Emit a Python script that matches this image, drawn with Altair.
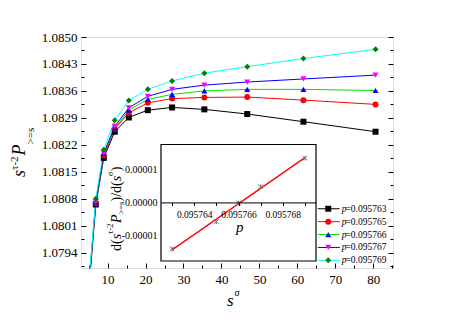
import altair as alt
import pandas as pd

# ---------------- data ----------------
S_SIGMA = [5.2, 6.9, 9.0, 11.9, 15.6, 20.6, 27.0, 35.5, 46.8, 61.6, 80.6]
SERIES = ["0.095763", "0.095765", "0.095766", "0.095767", "0.095769"]
Y_063 = [1.0786, 1.08065, 1.08186, 1.08254, 1.08291, 1.08310, 1.08317, 1.08312, 1.08300, 1.08280, 1.08254]
Y_065 = [1.0787, 1.08068, 1.08192, 1.08261, 1.08303, 1.08329, 1.08340, 1.08343, 1.08344, 1.08336, 1.08325]
Y_066 = [1.0787, 1.08071, 1.08197, 1.08263, 1.08310, 1.08338, 1.08351, 1.08360, 1.08364, 1.08364, 1.08361]
Y_067 = [1.0787, 1.08072, 1.08198, 1.08268, 1.08316, 1.08346, 1.08364, 1.08375, 1.08383, 1.08391, 1.08401]
Y_069 = [1.0788, 1.08080, 1.08207, 1.08284, 1.08335, 1.08364, 1.08386, 1.08406, 1.08423, 1.08444, 1.08468]
ALL_Y = [Y_063, Y_065, Y_066, Y_067, Y_069]

MARKER_COLORS = ["#000000", "#FF0000", "#0000FF", "#FF00FF", "#008000"]
LINE_COLORS = ["#000000", "#FF0000", "#00DD00", "#0000FF", "#00FFFF"]
SHAPES = ["square", "circle", "triangle-up", "triangle-down", "diamond"]

X_DOMAIN = [3.0, 85.2]
Y_DOMAIN = [1.0790, 1.0850]
X_MAJOR = [10, 20, 30, 40, 50, 60, 70, 80]
X_MINOR = [5, 15, 25, 35, 45, 55, 65, 75, 85]
Y_MAJOR = [1.0794, 1.0801, 1.0808, 1.0815, 1.0822, 1.0829, 1.0836, 1.0843, 1.0850]
Y_MINOR = [1.07905, 1.07975, 1.08045, 1.08115, 1.08185, 1.08255, 1.08325, 1.08395, 1.08465]

# inset
P_VALUES = [0.095763, 0.095765, 0.095766, 0.095767, 0.095769]
DERIV = [-1.40e-5, -0.58e-5, -0.02e-5, 0.47e-5, 1.33e-5]
P_DOMAIN = [0.0957625, 0.0957695]
D_DOMAIN = [-1.76e-5, 1.74e-5]
P_TICKS = [0.095763, 0.095764, 0.095765, 0.095766, 0.095767, 0.095768, 0.095769]
D_TICKS = [-1e-5, 0.0, 1e-5]

# ---------------- layout ----------------
W, H = 312, 231
OX, OY = 81, 37            # page position of plot origin
INSET_X = [80, 235]        # inset pixel range (plot coords)
INSET_Y = [224, 107.5]
FONT = "'Liberation Serif', 'Times New Roman', 'DejaVu Serif', serif"

rows = []
for name, ys in zip(SERIES, ALL_Y):
    for s, v in zip(S_SIGMA, ys):
        rows.append({"s": s, "v": v, "series": name, "lseries": "line " + name})
df = pd.DataFrame(rows)
inset_df = pd.DataFrame({"p": P_VALUES, "d": DERIV})
frame_df = pd.DataFrame({"p0": [P_DOMAIN[0]], "p1": [P_DOMAIN[1]],
                         "d0": [D_DOMAIN[0]], "d1": [D_DOMAIN[1]]})
dummy = pd.DataFrame({"a": [0]})

xs = alt.Scale(domain=X_DOMAIN, nice=False, zero=False)
ys = alt.Scale(domain=Y_DOMAIN, nice=False, zero=False)
ixs = alt.Scale(domain=P_DOMAIN, range=INSET_X, nice=False, zero=False)
iys = alt.Scale(domain=D_DOMAIN, range=INSET_Y, nice=False, zero=False)

zero_y = INSET_Y[0] + (0 - D_DOMAIN[0]) / (D_DOMAIN[1] - D_DOMAIN[0]) * (INSET_Y[1] - INSET_Y[0])

LEG_Y = 167.0
LEG_FS = 9.5
LEG_PAD = 1.9
line_legend = alt.Legend(orient="none", legendX=243.0, legendY=LEG_Y, title=None,
                         symbolType="M-4,0H4", symbolSize=30, symbolStrokeWidth=1,
                         labelExpr="'p'", labelFont=FONT, labelFontStyle="italic",
                         labelFontSize=LEG_FS, labelColor="black", labelOffset=8.2,
                         rowPadding=LEG_PAD, padding=0)
mark_legend = alt.Legend(orient="none", legendX=242.5, legendY=LEG_Y, title=None,
                         symbolSize=36, symbolStrokeWidth=0,
                         labelExpr="'=' + datum.label", labelFont=FONT,
                         labelFontSize=LEG_FS, labelColor="black", labelOffset=12.5,
                         rowPadding=LEG_PAD, padding=0)

tick_axis = dict(labels=False, domain=False, grid=False, title=None, tickColor="black", tickWidth=1)

lines = alt.Chart(df).mark_line(strokeWidth=1, clip=True).encode(
    x=alt.X("s:Q", scale=xs, axis=alt.Axis(orient="bottom", values=X_MAJOR, ticks=False, domain=False,
                                           grid=False, title=None, labelFont=FONT, labelFontSize=13,
                                           labelColor="black", labelPadding=5, labelFlush=False)),
    y=alt.Y("v:Q", scale=ys, axis=alt.Axis(orient="left", values=Y_MAJOR, format=".4f", ticks=False,
                                           domain=False, grid=False, title=None, labelFont=FONT,
                                           labelFontSize=13, labelColor="black", labelPadding=4)),
    stroke=alt.Stroke("lseries:N", scale=alt.Scale(domain=["line " + n for n in SERIES], range=LINE_COLORS),
                      legend=line_legend),
)

points = alt.Chart(df).mark_point(filled=True, size=36, opacity=1, strokeWidth=0, clip=True).encode(
    x=alt.X("s:Q", scale=xs, axis=alt.Axis(orient="top", offset=-H, values=X_MAJOR, tickSize=5, **tick_axis)),
    y=alt.Y("v:Q", scale=ys, axis=alt.Axis(orient="right", offset=-W, values=Y_MAJOR, tickSize=5, **tick_axis)),
    color=alt.Color("series:N", scale=alt.Scale(domain=SERIES, range=MARKER_COLORS), legend=mark_legend),
    shape=alt.Shape("series:N", scale=alt.Scale(domain=SERIES, range=SHAPES), legend=mark_legend),
)

minor = alt.Chart(df).mark_point(opacity=0, clip=True).encode(
    x=alt.X("s:Q", scale=xs, axis=alt.Axis(orient="top", offset=-H, values=X_MINOR, tickSize=3, **tick_axis)),
    y=alt.Y("v:Q", scale=ys, axis=alt.Axis(orient="right", offset=-W, values=Y_MINOR, tickSize=3, **tick_axis)),
)

right_major = alt.Chart(df).mark_point(opacity=0, clip=True).encode(
    x=alt.X("s:Q", scale=xs, axis=None),
    y=alt.Y("v:Q", scale=ys, axis=alt.Axis(orient="left", offset=-W, values=Y_MAJOR, tickSize=5, **tick_axis)),
)
right_minor = alt.Chart(df).mark_point(opacity=0, clip=True).encode(
    x=alt.X("s:Q", scale=xs, axis=None),
    y=alt.Y("v:Q", scale=ys, axis=alt.Axis(orient="left", offset=-W, values=Y_MINOR, tickSize=3, **tick_axis)),
)

frame = alt.Chart(frame_df).mark_rect(fill="white", stroke="black", strokeWidth=1.2).encode(
    x=alt.X("p0:Q", scale=ixs, axis=alt.Axis(
        orient="bottom", offset=zero_y - H, values=P_TICKS,
        labelExpr="(round(datum.value*1e6) % 2 == 0) ? format(datum.value, '.6f') : ''",
        tickSize=3, tickColor="black", domain=True, domainColor="black", domainWidth=1,
        grid=False, title=None, labelFont=FONT, labelFontSize=9.5, labelColor="black",
        labelPadding=4, labelFlush=False, zindex=1)),
    x2="p1:Q",
    y=alt.Y("d0:Q", scale=iys, axis=alt.Axis(
        orient="left", offset=-INSET_X[0], values=D_TICKS,
        labelExpr="datum.value < 0 ? '-' + format(-datum.value, '.5f') : format(datum.value, '.5f')",
        ticks=False, domain=False, grid=False, title=None, labelFont=FONT, labelFontSize=10,
        labelColor="black", labelPadding=4, zindex=1)),
    y2="d1:Q",
)

reg = alt.Chart(inset_df).transform_regression("p", "d").mark_line(color="#FF0000", strokeWidth=1.3).encode(
    x=alt.X("p:Q", scale=ixs, axis=None),
    y=alt.Y("d:Q", scale=iys, axis=None),
)

X_PATH = "M-1,-1L1,1M-1,1L1,-1M0,-1V1"
ipts = alt.Chart(inset_df).mark_point(shape=X_PATH, size=22, color="#777777", strokeWidth=1,
                                      filled=False, opacity=1).encode(
    x=alt.X("p:Q", scale=ixs, axis=None),
    y=alt.Y("d:Q", scale=iys, axis=None),
)


def txt(t, px, py, size, italic=False, angle=0):
    return alt.Chart(dummy).mark_text(
        text=t, font=FONT, fontSize=size, fontStyle="italic" if italic else "normal",
        angle=angle, align="left", baseline="alphabetic", color="black"
    ).encode(x=alt.value(px - OX), y=alt.value(py - OY))


titles = [
    # x title  s^sigma
    txt("s", 227, 306, 17, True),
    txt("σ", 234.5, 296, 10, True),
    # y title  s^{tau-2} P_{>=s}
    txt("s", 25, 177, 18, True, 270),
    txt("τ-2", 18, 170, 11, False, 270),
    txt("P", 25, 155.5, 18, True, 270),
    txt(">=s", 34, 144.5, 11, False, 270),
    # inset y title  d(s^{tau-2}P_{>=s})/d(s^sigma)
    txt("d(", 121, 251, 14, False, 270),
    txt("s", 121, 239.3, 14, True, 270),
    txt("τ-2", 113, 233.9, 8.5, False, 270),
    txt("P", 121, 223.1, 14, True, 270),
    txt(">=s", 124, 214.5, 8.5, False, 270),
    txt(")/d(", 121, 201.5, 14, False, 270),
    txt("s", 121, 181.3, 14, True, 270),
    txt("σ", 113, 175.9, 8.5, True, 270),
    txt(")", 121, 171.2, 14, False, 270),
    # inset x title
    txt("p", 236, 232, 15, True),
]

chart = alt.layer(
    lines, points, minor, right_major, right_minor, frame, reg, ipts, *titles
).resolve_scale(
    x="independent", y="independent"
).properties(
    width=W, height=H,
    padding={"left": OX - 8, "top": OY - 8, "right": 20, "bottom": 50},
    autosize=alt.AutoSizeParams(type="none"),
).configure_view(
    stroke="black", strokeWidth=1.2
).configure(background="white")

chart.save("out.html", embed_options={"renderer": "svg", "actions": False})
